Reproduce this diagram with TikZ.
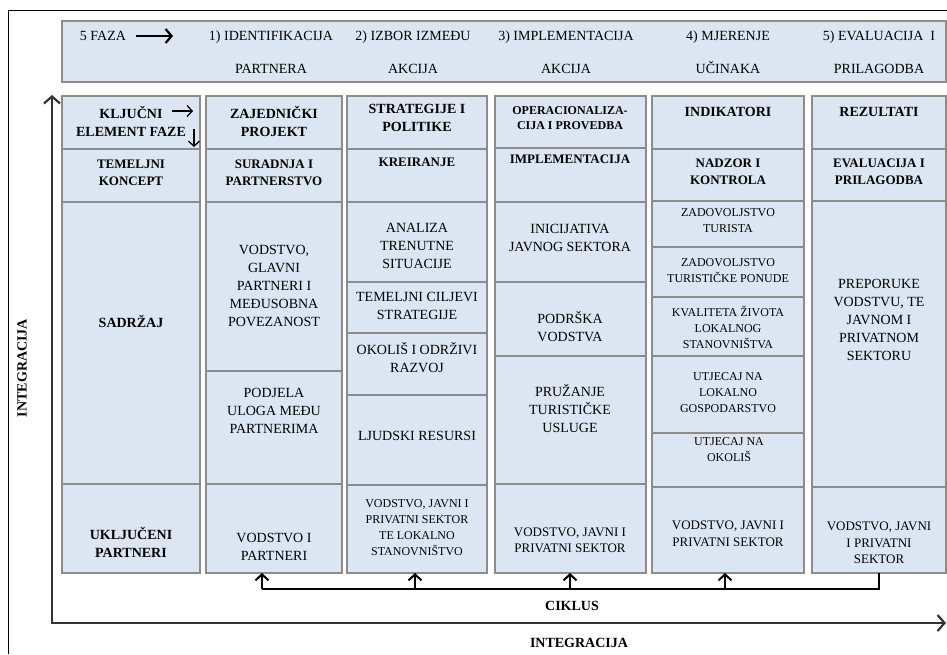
\documentclass[tikz,border=0pt]{standalone}
\usepackage{fontspec}
\setmainfont{Liberation Serif}
\usetikzlibrary{arrows.meta}
\definecolor{cellfill}{HTML}{DCE6F2}
\definecolor{cellline}{HTML}{8C8C8C}
\tikzstyle{cell}=[draw=cellline,fill=cellfill,line width=1.3pt,inner sep=0pt,outer sep=0pt,anchor=north west]
\tikzstyle{txt}=[align=center,inner sep=0pt,font=\fontsize{14}{18}\selectfont]
\tikzstyle{htxt}=[txt,font=\fontsize{14}{33}\selectfont]
\tikzstyle{btxt}=[txt,font=\bfseries\fontsize{14}{18}\selectfont]
\tikzstyle{bsub}=[txt,font=\bfseries\fontsize{13}{17}\selectfont]
\tikzstyle{bsmall}=[txt,font=\bfseries\fontsize{12}{15}\selectfont]
\tikzstyle{mtxt}=[txt,font=\fontsize{13}{16.5}\selectfont]
\tikzstyle{stxt}=[txt,font=\fontsize{12}{16}\selectfont]
\tikzstyle{axisline}=[draw=black!80,line width=2pt,{Straight Barb[length=7pt,width=16pt,line width=2.2pt]}-{Straight Barb[length=7pt,width=16pt,line width=2.2pt]}]
\tikzstyle{bigarrow}=[draw,line width=2pt,-{Straight Barb[length=6pt,width=14pt,line width=2.2pt]}]
\tikzstyle{keyarrow}=[draw,line width=1.1pt,-{Straight Barb[length=5pt,width=11pt,line width=1.3pt]}]
\tikzstyle{cycleline}=[draw,line width=1.4pt]
\tikzstyle{cyclearrow}=[cycleline,-{Straight Barb[length=6pt,width=13pt,line width=2pt]}]
\newcommand{\cellbox}[5]{\node[cell,minimum width={(#4-#2)*1pt},minimum height={(#5-#3)*1pt}] (#1) at (#2,#3) {};}

\begin{document}
\begin{tikzpicture}[x=1pt,y=-1pt]
\useasboundingbox (0,0) rectangle (947,654);
\draw[line width=0.8pt] (8,654) |- (947,10);

% header with the five phases
\cellbox{head}{62}{21}{946}{82}
\node[txt] (faza) at (103,36) {5 FAZA};
\coordinate (fa) at (136,36);
\coordinate (fb) at (173,36);
\draw[bigarrow] (fa) -- (fb);
\node[htxt] (ph1) at (271,52.5) {1) IDENTIFIKACIJA\\PARTNERA};
\node[htxt] (ph2) at (413,52.5) {2) IZBOR IZMEĐU\\AKCIJA};
\node[htxt] (ph3) at (566,52.5) {3) IMPLEMENTACIJA\\AKCIJA};
\node[htxt] (ph4) at (728,52.5) {4) MJERENJE\\UČINAKA};
\node[htxt] (ph5) at (879,52.5) {5) EVALUACIJA~ I\\PRILAGODBA};

% columns
\foreach \a/\b [count=\i] in {96/149,149/202,202/484,484/573} {\cellbox{c1\i}{62}{\a}{200}{\b}}
\foreach \a/\b [count=\i] in {96/149,149/202,202/371,371/484,484/573} {\cellbox{c2\i}{206}{\a}{342}{\b}}
\foreach \a/\b [count=\i] in {96/149,149/202,202/282,282/333,333/395,395/485,485/573} {\cellbox{c3\i}{347}{\a}{487}{\b}}
\foreach \a/\b [count=\i] in {96/148,148/202,202/282,282/356,356/484,484/573} {\cellbox{c4\i}{495}{\a}{646}{\b}}
\foreach \a/\b [count=\i] in {96/149,149/201,201/247,247/297,297/356,356/433,433/487,487/573} {\cellbox{c5\i}{652}{\a}{804}{\b}}
\foreach \a/\b [count=\i] in {96/149,149/201,201/487,487/573} {\cellbox{c6\i}{812}{\a}{946}{\b}}

% column 1
\node[btxt] (kljucni) at (131,121) {KLJUČNI\\ELEMENT FAZE};
\coordinate (ka) at (172,111);
\coordinate (kb) at (193,111);
\coordinate (kc) at (194,129);
\coordinate (kd) at (194,147);
\draw[keyarrow] (ka) -- (kb);
\draw[keyarrow] (kc) -- (kd);
\node[bsub] (temeljni) at (131,172.5) {TEMELJNI\\KONCEPT};
\node[btxt] (sadrzaj) at (131,321) {SADRŽAJ};
\node[btxt] (ukljuceni) at (131,542.5) {UKLJUČENI\\PARTNERI};

% column 2
\node[btxt] (zajednicki) at (274,121) {ZAJEDNIČKI\\PROJEKT};
\node[bsub] (suradnja) at (274,172.5) {SURADNJA I\\PARTNERSTVO};
\node[txt] (vodstvo) at (274,286) {VODSTVO,\\GLAVNI\\PARTNERI I\\MEĐUSOBNA\\POVEZANOST};
\node[txt] (podjela) at (274,411) {PODJELA\\ULOGA MEĐU\\PARTNERIMA};
\node[txt] (partneri) at (274,546.5) {VODSTVO I\\PARTNERI};

% column 3
\node[btxt] (strategije) at (417,118) {STRATEGIJE I\\POLITIKE};
\node[bsub] (kreiranje) at (417,162) {KREIRANJE};
\node[txt] (analiza) at (417,246) {ANALIZA\\TRENUTNE\\SITUACIJE};
\node[txt] (ciljevi) at (417,306) {TEMELJNI CILJEVI\\STRATEGIJE};
\node[txt] (okolis) at (417,358) {OKOLIŠ I ODRŽIVI\\RAZVOJ};
\node[txt] (resursi) at (417,436) {LJUDSKI RESURSI};
\node[stxt] (sektor3) at (417,528) {VODSTVO, JAVNI I\\PRIVATNI SEKTOR\\TE LOKALNO\\STANOVNIŠTVO};

% column 4
\node[bsmall] (operac) at (570,118.5) {OPERACIONALIZA-\\CIJA I PROVEDBA};
\node[bsub] (implem) at (570,159) {IMPLEMENTACIJA};
\node[txt] (inicijativa) at (570,238) {INICIJATIVA\\JAVNOG SEKTORA};
\node[txt] (podrska) at (570,327) {PODRŠKA\\VODSTVA};
\node[txt] (pruzanje) at (570,409) {PRUŽANJE\\TURISTIČKE\\USLUGE};
\node[mtxt] (sektor4) at (570,540.5) {VODSTVO, JAVNI I\\PRIVATNI SEKTOR};

% column 5
\node[btxt] (indikatori) at (728,112) {INDIKATORI};
\node[bsub] (nadzor) at (728,172) {NADZOR I\\KONTROLA};
\node[stxt] (turisti) at (728,220.5) {ZADOVOLJSTVO\\TURISTA};
\node[stxt] (ponuda) at (728,270.5) {ZADOVOLJSTVO\\TURISTIČKE PONUDE};
\node[stxt] (kvaliteta) at (728,327.5) {KVALITETA ŽIVOTA\\LOKALNOG\\STANOVNIŠTVA};
\node[stxt] (gospodarstvo) at (728,392.5) {UTJECAJ NA\\LOKALNO\\GOSPODARSTVO};
\node[stxt] (okolis5) at (729,449.5) {UTJECAJ NA\\OKOLIŠ};
\node[mtxt] (sektor5) at (728,534) {VODSTVO, JAVNI I\\PRIVATNI SEKTOR};

% column 6
\node[btxt] (rezultati) at (879,112) {REZULTATI};
\node[bsub] (evaluacija) at (879,172) {EVALUACIJA I\\PRILAGODBA};
\node[txt] (preporuke) at (879,320) {PREPORUKE\\VODSTVU, TE\\JAVNOM I\\PRIVATNOM\\SEKTORU};
\node[mtxt] (sektor6) at (879,543) {VODSTVO, JAVNI\\I PRIVATNI\\SEKTOR};

% cycle back to the phases
\coordinate (k2) at (262,589);
\coordinate (k3) at (415,589);
\coordinate (k4) at (570,589);
\coordinate (k5) at (725,589);
\draw[cycleline] (c64.south) |- (k2);
\foreach \k/\c in {k2/c25,k3/c37,k4/c46,k5/c58}
  \draw[cyclearrow] (\k) -- (\k |- \c.south);
\node[btxt] (ciklus) at (572,606) {CIKLUS};

% axes
\coordinate (origin) at (52,623);
\coordinate (ytip) at (52,95);
\coordinate (xtip) at (946,623);
\draw[axisline] (ytip) -- (origin) -- (xtip);
\node[btxt,rotate=90] (inty) at (22,368) {INTEGRACIJA};
\node[btxt] (intx) at (579,643) {INTEGRACIJA};
\end{tikzpicture}
\end{document}
